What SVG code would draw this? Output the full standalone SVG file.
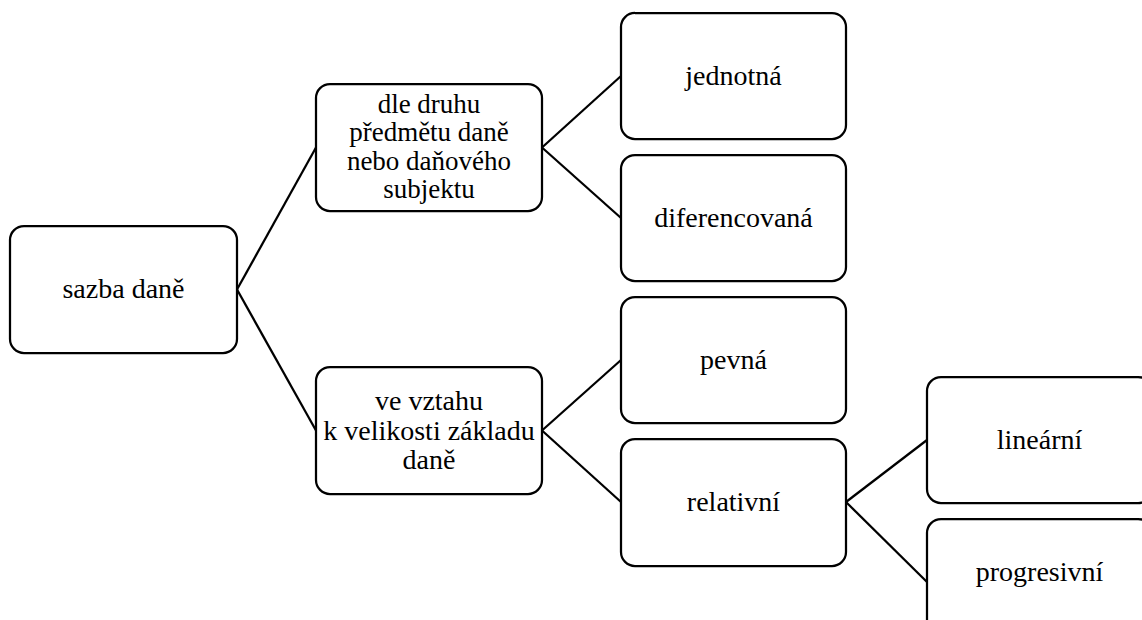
<svg xmlns="http://www.w3.org/2000/svg" width="1142" height="620" viewBox="0 0 1142 620">
<style>
.box{fill:#fff;stroke:#000;stroke-width:2.25}
.lbl{font-size:28px;fill:#000;text-anchor:middle}
.conn line{stroke:#000;stroke-width:2.25;fill:none}
</style>
<rect width="1142" height="620" fill="#fff"/>
<g id="connectors" class="conn">
<line x1="237" y1="289.5" x2="316" y2="147.5"/>
<line x1="237" y1="289.5" x2="316" y2="430.5"/>
<line x1="542" y1="147.5" x2="621" y2="76"/>
<line x1="542" y1="147.5" x2="621" y2="218"/>
<line x1="542" y1="430.5" x2="621" y2="360"/>
<line x1="542" y1="430.5" x2="621" y2="502"/>
<line x1="846" y1="502" x2="927" y2="440"/>
<line x1="846" y1="502" x2="927" y2="582"/>
</g>
<g font-family="'Liberation Serif', Tinos, 'Times New Roman', 'DejaVu Serif', serif">
<g id="root">
<rect class="box" x="10" y="226" width="227" height="127" rx="14"/>
<text class="lbl" x="123.5" y="298">sazba daně</text>
</g>
<g id="mid1">
<rect class="box" x="316" y="84" width="226" height="127" rx="14"/>
<text class="lbl" x="429" y="112.5" style="font-size:27px"><tspan x="429" y="112.5">dle druhu</tspan><tspan x="429" y="141">předmětu daně</tspan><tspan x="429" y="169.5">nebo daňového</tspan><tspan x="429" y="198">subjektu</tspan></text>
</g>
<g id="mid2">
<rect class="box" x="316" y="367" width="226" height="127" rx="14"/>
<text class="lbl" x="429" y="410"><tspan x="429" y="410">ve vztahu</tspan><tspan x="429" y="439.5">k velikosti základu</tspan><tspan x="429" y="469">daně</tspan></text>
</g>
<g id="jednotna">
<rect class="box" x="621" y="13" width="225" height="126" rx="14"/>
<text class="lbl" x="733.5" y="85">jednotná</text>
</g>
<g id="diferencovana">
<rect class="box" x="621" y="155" width="225" height="126" rx="14"/>
<text class="lbl" x="733.5" y="227">diferencovaná</text>
</g>
<g id="pevna">
<rect class="box" x="621" y="297" width="225" height="126" rx="14"/>
<text class="lbl" x="733.5" y="369">pevná</text>
</g>
<g id="relativni">
<rect class="box" x="621" y="439" width="225" height="127" rx="14"/>
<text class="lbl" x="733.5" y="511">relativní</text>
</g>
<g id="linearni">
<rect class="box" x="927" y="377" width="225" height="126" rx="14"/>
<text class="lbl" x="1039.5" y="449">lineární</text>
</g>
<g id="progresivni">
<rect class="box" x="927" y="519" width="225" height="126" rx="14"/>
<text class="lbl" x="1039.5" y="581">progresivní</text>
</g>
</g>
</svg>
